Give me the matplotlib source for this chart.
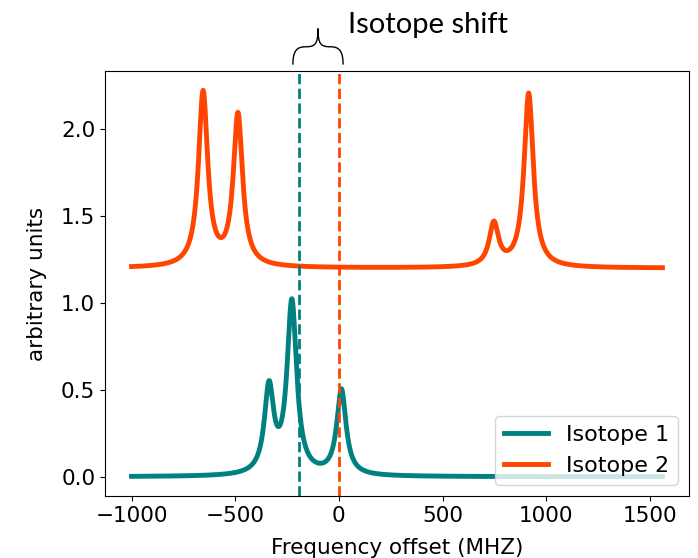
import numpy as np
import matplotlib
matplotlib.use("Agg")
import matplotlib.pyplot as plt
from matplotlib.path import Path
from matplotlib.patches import PathPatch
import matplotlib.transforms as mtransforms

# ---- data (peak parameters, MHz / arbitrary units) ----
freq_start = -1000
freq_stop = 1560
iso1_centers = [-337, -227, 12]
iso1_heights = [0.49, 0.99, 0.49]
iso1_widths = [27, 28, 27]          # half width at half maximum
iso1_offset = 0.0

iso2_centers = [-655, -487, 747, 915]
iso2_heights = [1.0, 0.87, 0.245, 1.0]
iso2_widths = [27, 27, 27, 27]
iso2_offset = 1.2

iso1_centroid = -193
iso2_centroid = 0

xticks = [-1000, -500, 0, 500, 1000, 1500]
yticks = [0.0, 0.5, 1.0, 1.5, 2.0]

teal = "#008080"
orange = "#FF4500"

freq = np.linspace(freq_start, freq_stop, 4000)


def spectrum(centers, heights, widths, offset):
    y = np.full_like(freq, offset, dtype=float)
    for c, h, w in zip(centers, heights, widths):
        y += h / (1.0 + ((freq - c) / w) ** 2)
    return y


y1 = spectrum(iso1_centers, iso1_heights, iso1_widths, iso1_offset)
y2 = spectrum(iso2_centers, iso2_heights, iso2_widths, iso2_offset)

fig = plt.figure(figsize=(6.98, 5.58), dpi=100)
ax = fig.add_axes([105 / 698, 62 / 558, 584 / 698, 425 / 558])

ax.plot(freq, y1, color=teal, lw=3.5, label="Isotope 1")
ax.plot(freq, y2, color=orange, lw=3.5, label="Isotope 2")
ax.axvline(iso1_centroid, color=teal, lw=2, ls="--")
ax.axvline(iso2_centroid, color=orange, lw=2, ls="--")

ax.set_xticks(xticks)
ax.set_yticks(yticks)
ax.tick_params(labelsize=15.5)
ax.set_xlabel("Frequency offset (MHZ)", fontsize=15.5, labelpad=9)
ax.set_ylabel("arbitrary units", fontsize=15.5, labelpad=10)
ax.legend(loc="lower right", fontsize=16)

# curly brace + annotation above the axes
trans = mtransforms.blended_transform_factory(ax.transData, ax.transAxes)
xl, xr = -222, 20
xc = 0.5 * (xl + xr)
w = 0.5 * (xr - xl)
yb, ym, yt = 1.015, 1.057, 1.10
verts = [
    (xl, yb),
    (xl, ym - 0.01), (xl + 0.15 * w, ym), (xl + 0.5 * w, ym),
    (xc - 0.12 * w, ym), (xc, ym + 0.005), (xc, yt),
    (xc, ym + 0.005), (xc + 0.12 * w, ym), (xr - 0.5 * w, ym),
    (xr - 0.15 * w, ym), (xr, ym - 0.01), (xr, yb),
]
codes = [Path.MOVETO] + [Path.CURVE4] * 12
brace = PathPatch(Path(verts, codes), transform=trans, fill=False,
                  lw=1.0, color="black", clip_on=False)
ax.add_patch(brace)
ax.text(43, 1.089, "Isotope shift", transform=trans, fontsize=21,
        family=["Lato", "DejaVu Sans"], ha="left", va="baseline")

fig.savefig("out.png", dpi=100)
